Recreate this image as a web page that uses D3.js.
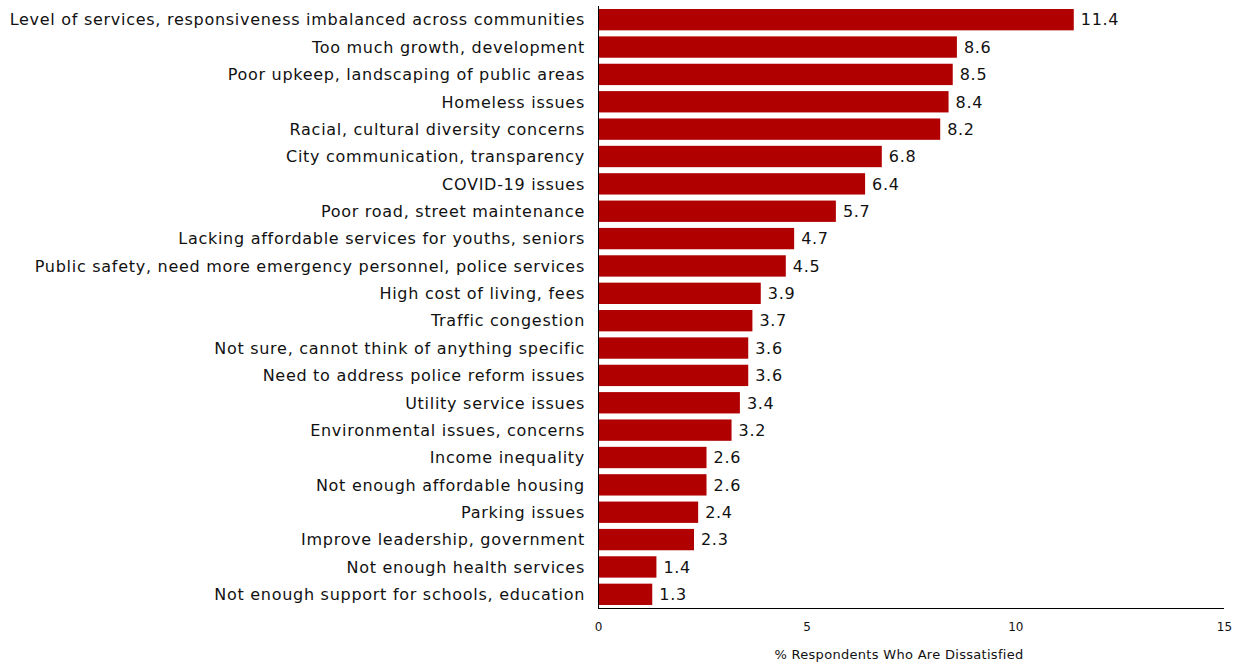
<!DOCTYPE html>
<html>
<head>
<meta charset="utf-8">
<script src="https://cdn.jsdelivr.net/npm/d3@7"></script>
<style>
  body { margin: 0; background: #fff; }
  svg { display: block; }
</style>
</head>
<body>
<svg id="chart" width="1242" height="663"></svg>
<script>
const categories = [
  "Level of services, responsiveness imbalanced across communities",
  "Too much growth, development",
  "Poor upkeep, landscaping of public areas",
  "Homeless issues",
  "Racial, cultural diversity concerns",
  "City communication, transparency",
  "COVID-19 issues",
  "Poor road, street maintenance",
  "Lacking affordable services for youths, seniors",
  "Public safety, need more emergency personnel, police services",
  "High cost of living, fees",
  "Traffic congestion",
  "Not sure, cannot think of anything specific",
  "Need to address police reform issues",
  "Utility service issues",
  "Environmental issues, concerns",
  "Income inequality",
  "Not enough affordable housing",
  "Parking issues",
  "Improve leadership, government",
  "Not enough health services",
  "Not enough support for schools, education"
];
const values = [11.4, 8.6, 8.5, 8.4, 8.2, 6.8, 6.4, 5.7, 4.7, 4.5, 3.9, 3.7, 3.6, 3.6, 3.4, 3.2, 2.6, 2.6, 2.4, 2.3, 1.4, 1.3];
const tickValues = [0, 5, 10, 15];
const axisTitle = "% Respondents Who Are Dissatisfied";

const margin = { top: 6, left: 598, right: 18, bottom: 55 };
const width = 1242, height = 663;
const svg = d3.select("#chart");
const font = "'DejaVu Sans', Verdana, sans-serif";

const x = d3.scaleLinear().domain([0, 15]).range([margin.left, width - margin.right]);
const y = d3.scaleBand().domain(categories).range([margin.top, height - margin.bottom]).paddingInner(0.22).paddingOuter(0.11);

// bars
svg.append("g").selectAll("rect")
  .data(categories)
  .join("rect")
  .attr("x", x(0))
  .attr("y", d => y(d))
  .attr("width", (d, i) => x(values[i]) - x(0))
  .attr("height", y.bandwidth())
  .attr("fill", "#b00000");

// value labels
svg.append("g").selectAll("text")
  .data(categories)
  .join("text")
  .attr("x", (d, i) => x(values[i]) + 7)
  .attr("y", d => y(d) + y.bandwidth() / 2)
  .attr("dy", "0.36em")
  .attr("font-family", font)
  .attr("font-size", 16)
  .attr("letter-spacing", 0.7)
  .attr("fill", "#111")
  .text((d, i) => values[i].toFixed(1));

// category labels
svg.append("g").selectAll("text")
  .data(categories)
  .join("text")
  .attr("x", x(0) - 13)
  .attr("y", d => y(d) + y.bandwidth() / 2)
  .attr("dy", "0.36em")
  .attr("text-anchor", "end")
  .attr("font-family", font)
  .attr("font-size", 16)
  .attr("letter-spacing", 0.72)
  .attr("fill", "#111")
  .text(d => d);

// axis lines
const axisY = height - margin.bottom;
svg.append("line")
  .attr("x1", x(0) + 0.5).attr("x2", x(0) + 0.5)
  .attr("y1", margin.top).attr("y2", axisY)
  .attr("stroke", "#000").attr("stroke-width", 1);

const xAxis = d3.axisBottom(x).tickValues(tickValues).tickSize(0).tickPadding(14).tickFormat(d3.format("d"));
const gx = svg.append("g").attr("transform", `translate(0,${axisY})`).call(xAxis);
gx.select(".domain").attr("stroke", "#000").attr("d", `M${x(0)},0.5H${x(15)}`);
gx.selectAll("text").attr("font-family", font).attr("font-size", 12).attr("fill", "#111");

svg.append("text")
  .attr("x", x(7.5) - 12)
  .attr("y", 659)
  .attr("text-anchor", "middle")
  .attr("font-family", font)
  .attr("font-size", 13)
  .attr("letter-spacing", 0.3)
  .attr("fill", "#111")
  .text(axisTitle);
</script>
</body>
</html>
